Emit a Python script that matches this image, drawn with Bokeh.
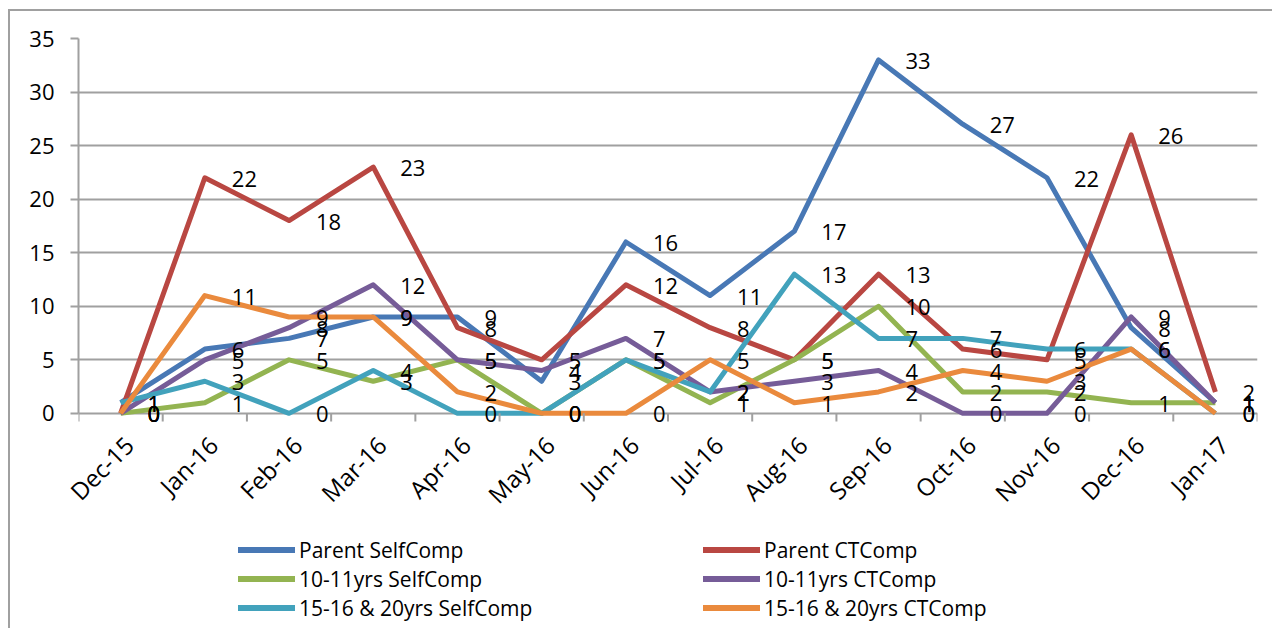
from math import pi
from bokeh.plotting import figure
from bokeh.layouts import column
from bokeh.models import Range1d, FixedTicker, Legend, LegendItem, LinearAxis
from bokeh.core.properties import value
from bokeh.embed import file_html
from bokeh.resources import INLINE

months = ["Dec-15", "Jan-16", "Feb-16", "Mar-16", "Apr-16", "May-16", "Jun-16",
          "Jul-16", "Aug-16", "Sep-16", "Oct-16", "Nov-16", "Dec-16", "Jan-17"]

parent_self = [1, 6, 7, 9, 9, 3, 16, 11, 17, 33, 27, 22, 8, 1]
parent_ct = [0, 22, 18, 23, 8, 5, 12, 8, 5, 13, 6, 5, 26, 2]
y1011_self = [0, 1, 5, 3, 5, 0, 5, 1, 5, 10, 2, 2, 1, 1]
y1011_ct = [0, 5, 8, 12, 5, 4, 7, 2, 3, 4, 0, 0, 9, 1]
y1520_self = [1, 3, 0, 4, 0, 0, 5, 2, 13, 7, 7, 6, 6, 0]
y1520_ct = [0, 11, 9, 9, 2, 0, 0, 5, 1, 2, 4, 3, 6, 0]

series_names = ["Parent SelfComp", "Parent CTComp", "10-11yrs SelfComp",
                "10-11yrs CTComp", "15-16 & 20yrs SelfComp", "15-16 & 20yrs CTComp"]
series_values = [parent_self, parent_ct, y1011_self, y1011_ct, y1520_self, y1520_ct]
colors = ["#4878B5", "#B94742", "#93B451", "#765C98", "#42A2BC", "#EA8A3D"]

y_ticks = list(range(0, 36, 5))

FONT = value("Open Sans")
GREY = "#a0a0a0"
n = len(months)

p = figure(width=1262, height=519, output_backend="svg", toolbar_location=None,
           x_range=Range1d(-0.5, n - 0.5), y_range=Range1d(-1.6, 35),
           x_axis_type=None,
           min_border_left=68, min_border_top=27, min_border_right=15,
           min_border_bottom=100)
p.outline_line_color = None
p.background_fill_color = "white"
p.border_fill_color = "white"

xs = list(range(n))

renderers = []
for name, vals, col in zip(series_names, series_values, colors):
    r = p.line(xs, vals, line_color=col, line_width=5, line_join="round")
    renderers.append(r)

for vals in series_values:
    p.text(xs, vals, text=[str(v) for v in vals], x_offset=27, y_offset=1,
           text_font=FONT, text_font_size="22px", text_color="black",
           text_baseline="middle", text_align="left")

# category boundary tick marks hanging below the zero line
bounds = [i - 0.5 for i in range(n + 1)]
p.segment(x0=bounds, y0=[0] * len(bounds), x1=bounds, y1=[-0.75] * len(bounds),
          line_color=GREY, line_width=2)

# x axis with month labels (slightly shifted range so rotated labels end at the category centre)
p.extra_x_ranges = {"labels": Range1d(-0.5 - 0.1, n - 0.5 - 0.1)}
xa = LinearAxis(x_range_name="labels")
xa.ticker = FixedTicker(ticks=xs)
xa.major_label_overrides = {i: m for i, m in enumerate(months)}
xa.major_label_orientation = pi / 4
xa.major_tick_out = 0
xa.major_tick_in = 0
xa.minor_tick_out = 0
xa.minor_tick_in = 0
xa.axis_line_color = None
xa.major_label_text_font = "Open Sans"
xa.major_label_text_font_size = "24px"
xa.major_label_text_color = "black"
xa.major_label_standoff = 10
p.add_layout(xa, "below")

# y axis
ya = p.yaxis[0]
ya.ticker = FixedTicker(ticks=y_ticks)
ya.bounds = (0, 35)
ya.major_tick_out = 8
ya.major_tick_in = 0
ya.minor_tick_out = 0
ya.minor_tick_in = 0
ya.major_tick_line_color = GREY
ya.major_tick_line_width = 2
ya.axis_line_color = GREY
ya.axis_line_width = 2
ya.major_label_text_font = "Open Sans"
ya.major_label_text_font_size = "22px"
ya.major_label_text_color = "black"
ya.major_label_standoff = 16

p.xgrid.grid_line_color = None
p.ygrid.grid_line_color = GREY
p.ygrid.grid_line_width = 2
p.ygrid.ticker = FixedTicker(ticks=y_ticks)

# legend panel below the chart
lf = figure(width=1262, height=98, output_backend="svg", toolbar_location=None,
            x_range=Range1d(0, 1), y_range=Range1d(0, 1),
            x_axis_type=None, y_axis_type=None,
            min_border_left=0, min_border_right=0, min_border_top=0, min_border_bottom=0)
lf.outline_line_color = None
lf.xgrid.grid_line_color = None
lf.ygrid.grid_line_color = None
lf.background_fill_color = "white"
lf.border_fill_color = "white"

legend_renderers = {}
for name, col in zip(series_names, colors):
    legend_renderers[name] = lf.line([-5, -4], [-5, -4], line_color=col, line_width=6,
                                     line_cap="round")

# legend fills column by column: left column = SelfComp series, right = CTComp series
order = [0, 2, 4, 1, 3, 5]
items = [LegendItem(label=series_names[i], renderers=[legend_renderers[series_names[i]]])
         for i in order]

legend = Legend(items=items, ncols=2, location=(160, 6),
                glyph_width=57, glyph_height=29, label_height=29, label_width=404,
                label_standoff=4, spacing=0, padding=0, margin=0,
                label_text_font="Open Sans", label_text_font_size="21px",
                label_text_color="black",
                border_line_alpha=0, background_fill_alpha=0)
lf.add_layout(legend, "center")

layout = column(p, lf, spacing=0, margin=(9, 0, 0, 8),
                styles={"border-left": "2px solid #a0a0a0", "border-top": "2px solid #a0a0a0"})

open("out.html", "w").write(file_html(layout, INLINE))
